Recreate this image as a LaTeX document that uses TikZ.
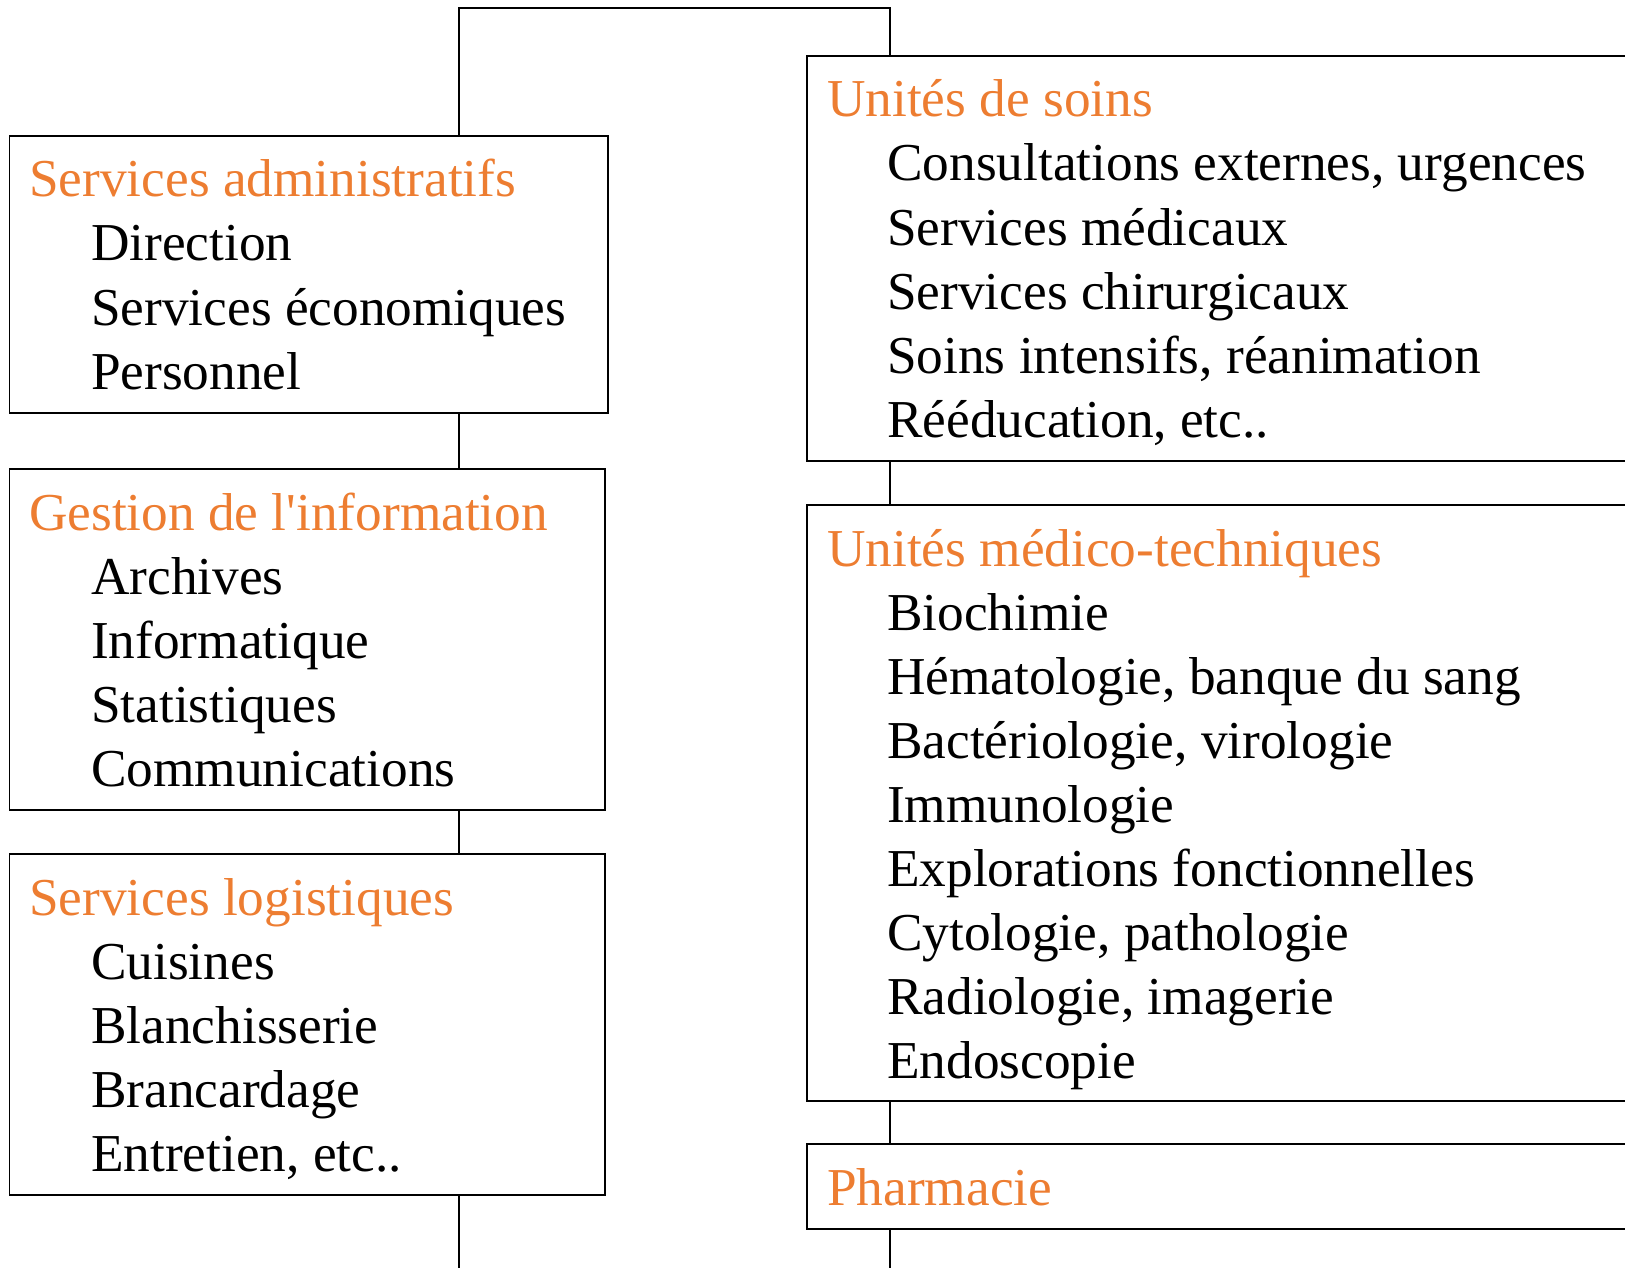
\documentclass[tikz,border=0pt]{standalone}
\usepackage{fontspec}
\setmainfont{Liberation Serif}
\definecolor{headorange}{HTML}{ED7D31}
\newcommand\bigfont{\fontsize{53.3}{64}\selectfont}
\begin{document}
\begin{tikzpicture}[x=1pt,y=-1pt,
  box/.style={draw, line width=1.6pt, rectangle, anchor=north west, inner sep=0pt, outer sep=0pt},
  head/.style={anchor=base west, inner sep=0pt, text=headorange, font=\bigfont},
  item/.style={anchor=base west, inner sep=0pt, font=\bigfont},
  link/.style={line width=1.6pt}]
\useasboundingbox (0,0) rectangle (1625,1268);
\clip (0,0) rectangle (1625,1268);
% boxes
\node[box, minimum width=598.5pt, minimum height=277pt] (b1) at (9.5,136) {};
\node[box, minimum width=595.5pt, minimum height=341pt] (b2) at (9.5,469) {};
\node[box, minimum width=595.5pt, minimum height=341pt] (b3) at (9.5,854) {};
\node[box, minimum width=830pt, minimum height=405pt] (r1) at (807,56) {};
\node[box, minimum width=830pt, minimum height=596pt] (r2) at (807,505) {};
\node[box, minimum width=830pt, minimum height=85pt] (r3) at (807,1144) {};
% connectors
\coordinate (tl) at (459,8);
\coordinate (tr) at (890,8);
\coordinate (lb) at (459,1270);
\coordinate (rb) at (890,1270);
\draw[link] (b1.north -| tl) -- (tl) -- (tr) -- (r1.north -| tr);
\draw[link] (b1.south -| tl) -- (b2.north -| tl);
\draw[link] (b2.south -| tl) -- (b3.north -| tl);
\draw[link] (b3.south -| tl) -- (lb);
\draw[link] (r1.south -| tr) -- (r2.north -| tr);
\draw[link] (r2.south -| tr) -- (r3.north -| tr);
\draw[link] (r3.south -| tr) -- (rb);
% left box 1
\node[head] (h1) at (29,197) {Services administratifs};
\node[item] (i11) at (91,261) {Direction};
\node[item] (i12) at (91,325) {Services économiques};
\node[item] (i13) at (91,389) {Personnel};
% left box 2
\node[head] (h2) at (29,530) {Gestion de l\textquotesingle information};
\node[item] (i21) at (91,594) {Archives};
\node[item] (i22) at (91,658) {Informatique};
\node[item] (i23) at (91,722) {Statistiques};
\node[item] (i24) at (91,786) {Communications};
% left box 3
\node[head] (h3) at (29,915) {Services logistiques};
\node[item] (i31) at (91,979) {Cuisines};
\node[item] (i32) at (91,1043) {Blanchisserie};
\node[item] (i33) at (91,1107) {Brancardage};
\node[item] (i34) at (91,1171) {Entretien, etc..};
% right box 1
\node[head] (g1) at (827,117) {Unités de soins};
\node[item] (j11) at (887,181) {Consultations externes, urgences};
\node[item] (j12) at (887,245) {Services médicaux};
\node[item] (j13) at (887,309) {Services chirurgicaux};
\node[item] (j14) at (887,373) {Soins intensifs, réanimation};
\node[item] (j15) at (887,437) {Rééducation, etc..};
% right box 2
\node[head] (g2) at (827,566) {Unités médico-techniques};
\node[item] (j21) at (887,630) {Biochimie};
\node[item] (j22) at (887,694) {Hématologie, banque du sang};
\node[item] (j23) at (887,758) {Bactériologie, virologie};
\node[item] (j24) at (887,822) {Immunologie};
\node[item] (j25) at (887,886) {Explorations fonctionnelles};
\node[item] (j26) at (887,950) {Cytologie, pathologie};
\node[item] (j27) at (887,1014) {Radiologie, imagerie};
\node[item] (j28) at (887,1078) {Endoscopie};
% right box 3
\node[head] (g3) at (827,1205) {Pharmacie};
\end{tikzpicture}
\end{document}
